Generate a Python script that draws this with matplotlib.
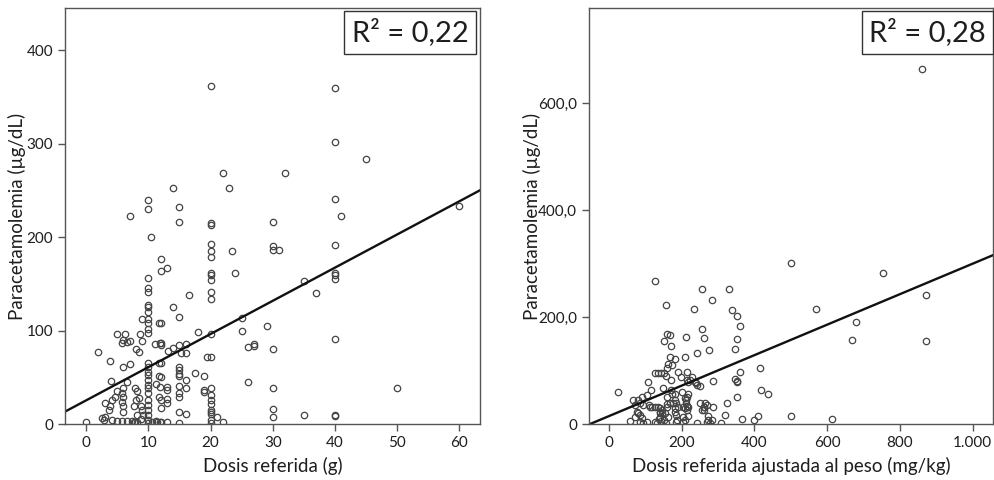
import matplotlib
matplotlib.use("Agg")
import matplotlib.pyplot as plt
import numpy as np

plt.rcParams['font.family'] = ['Lato', 'DejaVu Sans']

# ---------------- Data: left panel ----------------
left_pts = [
    (20,362),(40,359),(40,302),(45,283),(32,269),(22,269),(23,252),(14,252),(10,240),(10,230),
    (15,232),(40,241),(7,223),(41,222),(15,216),(30,216),(20,215),(20,213),(10.4,200),(20,193),
    (20,185),(20,179),(23.4,185),(30,190),(30,186),(31,186),(40,191),(12,176),(12,164),(13,167),
    (20,162),(20,159),(20,154),(24,161),(40,162),(40,159),(40,155),(35,153),(37,140),(20,141),
    (20,134),(10,156),(10,146),(10,141),(16.5,138),(60,233),(50,38),
    (14,125),(12,108),(15,114),(18,98),(20,96),(25,113),(25,99),(29,105),(26,82),(27,86),(27,83),
    (30,80),(40,91),(19.5,72),(20,72),(12,87),(12,84),(13.2,78),(14,81),(15,84),(16,86),(16,76),
    (15.2,76),(19,51),(17.5,55),(26,45),(12,65),(15,61),(15,58),(15,54),(15,51),(16,47),(12,50),
    (11.3,43),(13,40),(13,36),(15,41),(15,33),(15,29),(16,38),(19,36),(20,38),(20,31),(20,26),
    (20,21),(20,15),(20,13),(20,11),(21,7),(22,2),(20,1),(20,4),(19,34),(12,26),(13,27),(13,22),
    (12,17),(15,13),(16,11),(11.3,3),(12,2),(13,2),(15,1),(30,38),(30,16),(30,8),(35,10),(40,10),
    (40,9),
    (10,127),(10,125),(10,120),(10,112),(10,108),(10,102),(10,97),(9,112),(11.7,108),(5,96),
    (6.3,96),(8.6,96),(6,90),(6.6,88),(5.8,87),(7.1,89),(9,89),(11.1,86),(11.9,87),(8,80),
    (8.5,77),(1.9,77),(3.9,67),(7.1,64),(5.9,61),(10,65),(10,61),(10,56),(10,52),(10,47),
    (10,42),(10,38),(10,33),(10,26),(10,20),(10,15),(10,10),(10,4),(10,1),(4,46),(6.6,45),
    (11.7,65),(11.7,51),(11.9,40),(11.7,29),(5,35),(4.7,29),(4.2,26),(3.9,19),(3.1,22),(3.6,15),
    (3.1,8),(2.8,4),(2.6,6),(6,38),(5.8,33),(6,29),(5.8,24),(6,19),(6,13),(7.9,38),(8.2,35),
    (8,26),(8.5,28),(7.7,19),(8.8,19),(9,15),(8.2,10),(9.2,10),(8.8,5),(0,2),(4.2,4),(5,3),
    (5.8,3),(6.6,3),(7.4,3),(7.7,2),(7.9,2),(8.2,2),(10.6,2),(11.4,2),(11.9,2),
]
left_dose = [p[0] for p in left_pts]
left_para = [p[1] for p in left_pts]
left_intercept, left_slope = 25.3, 3.55
left_r2 = "R² = 0,22"

# ---------------- Data: right panel ----------------
right_pts = [
    (26,60),(127,268),(156,222),(159,168),(168,166),(152,155),(171,146),(168,126),(182,121),(163,113),
    (172,110),(159,104),(152,96),(157,90),(143,95),(134,96),(127,95),(171,82),(191,98),(198,88),
    (215,98),(223,82),(241,73),(250,71),(237,79),(227,88),(106,78),(116,64),(104,54),(149,67),
    (171,64),(182,57),(200,59),(218,56),(214,51),(209,48),(67,45),(81,45),(72,36),(85,39),
    (94,36),(111,36),(117,32),(127,32),(140,29),(145,26),(159,37),(168,39),(184,40),(191,32),
    (212,39),(215,34),(209,29),(250,39),(261,32),(255,26),(76,23),(81,20),(72,14),(85,17),
    (90,11),(58,6),(85,4),(94,2),(104,4),(127,4),(131,2),(140,22),(145,20),(140,14),
    (143,6),(163,14),(184,17),(186,7),(204,14),(209,7),(218,15),(241,2),(273,7),(269,36),
    (212,162),(257,178),(261,160),(243,133),(209,125),(235,215),(255,252),(284,232),(330,252),(339,214),
    (353,202),(360,184),(353,159),(346,140),(276,138),(415,105),(360,98),(347,85),(353,81),(353,79),
    (287,81),(418,64),(436,57),(351,51),(324,39),(287,31),(264,39),(260,32),(261,26),(273,15),
    (282,7),(269,4),(278,1),(319,16),(309,2),(365,9),(400,7),(411,15),(500,15),(500,301),
    (860,663),(753,283),(569,216),(872,241),(680,191),(669,158),(872,155),(612,10),(90,51),(159,51),
    (172,57),(182,45),(177,39),(182,29),(182,23),(159,32),(154,20),(151,7),(157,2),(113,32),
    (136,32),(140,20),(138,9),(204,32),(218,32),(214,27),(204,4),(184,4),(239,77),(214,82),
    (218,79),(212,45),
]
right_dose = [p[0] for p in right_pts]
right_para = [p[1] for p in right_pts]
right_intercept, right_slope = 14.8, 0.285
right_r2 = "R² = 0,28"

left_xticks = [0, 10, 20, 30, 40, 50, 60]
left_yticks = [0, 100, 200, 300, 400]
right_xticks = [0, 200, 400, 600, 800, 1000]
right_xticklabels = ["0", "200", "400", "600", "800", "1.000"]
right_yticks = [0, 200, 400, 600]
right_yticklabels = ["0", "200,0", "400,0", "600,0"]

ylabel = "Paracetamolemia (µg/dL)"

# ---------------- Figure ----------------
fig = plt.figure(figsize=(9.94, 4.8), dpi=100)
axL = fig.add_axes([65/994, 56/480, 415/994, 416/480])
axR = fig.add_axes([589/994, 56/480, 404/994, 416/480])

spine_col = '#555555'
txt_col = '#1e1e1e'
mk = dict(linestyle='', marker='o', ms=4.6, mfc='none', mec='#444444', mew=0.9)

def style(ax):
    for s in ax.spines.values():
        s.set_color(spine_col)
        s.set_linewidth(1.0)
    ax.tick_params(direction='out', length=5, width=1, color=spine_col,
                   labelsize=11, labelcolor=txt_col, top=False, right=False)

# left
axL.plot(left_dose, left_para, **mk)
axL.axline((0, left_intercept), slope=left_slope, color='#111111', lw=1.7)
axL.set_xlim(-3.4, 63.3)
axL.set_ylim(0, 445)
axL.set_xticks(left_xticks)
axL.set_yticks(left_yticks)
axL.set_xlabel("Dosis referida (g)", fontsize=13.5, color=txt_col)
axL.set_ylabel(ylabel, fontsize=13.5, color=txt_col)
axL.xaxis.set_label_coords(0.5, -0.078)
axL.yaxis.set_label_coords(-0.094, 0.5)
style(axL)
axL.text(0.972, 0.975, left_r2, transform=axL.transAxes, ha='right', va='top',
         fontsize=21, color=txt_col,
         bbox=dict(boxstyle='square,pad=0.25', fc='white', ec='#333333', lw=1.0))

# right
axR.plot(right_dose, right_para, **mk)
axR.axline((0, right_intercept), slope=right_slope, color='#111111', lw=1.7)
axR.set_xlim(-55, 1056)
axR.set_ylim(0, 778)
axR.set_xticks(right_xticks)
axR.set_xticklabels(right_xticklabels)
axR.set_yticks(right_yticks)
axR.set_yticklabels(right_yticklabels)
axR.set_xlabel("Dosis referida ajustada al peso (mg/kg)", fontsize=13.5, color=txt_col)
axR.set_ylabel(ylabel, fontsize=13.5, color=txt_col)
axR.xaxis.set_label_coords(0.5, -0.078)
axR.yaxis.set_label_coords(-0.119, 0.5)
style(axR)
axR.text(0.983, 0.975, right_r2, transform=axR.transAxes, ha='right', va='top',
         fontsize=21, color=txt_col,
         bbox=dict(boxstyle='square,pad=0.25', fc='white', ec='#333333', lw=1.0))

fig.savefig("out.png", dpi=100, facecolor='white')
